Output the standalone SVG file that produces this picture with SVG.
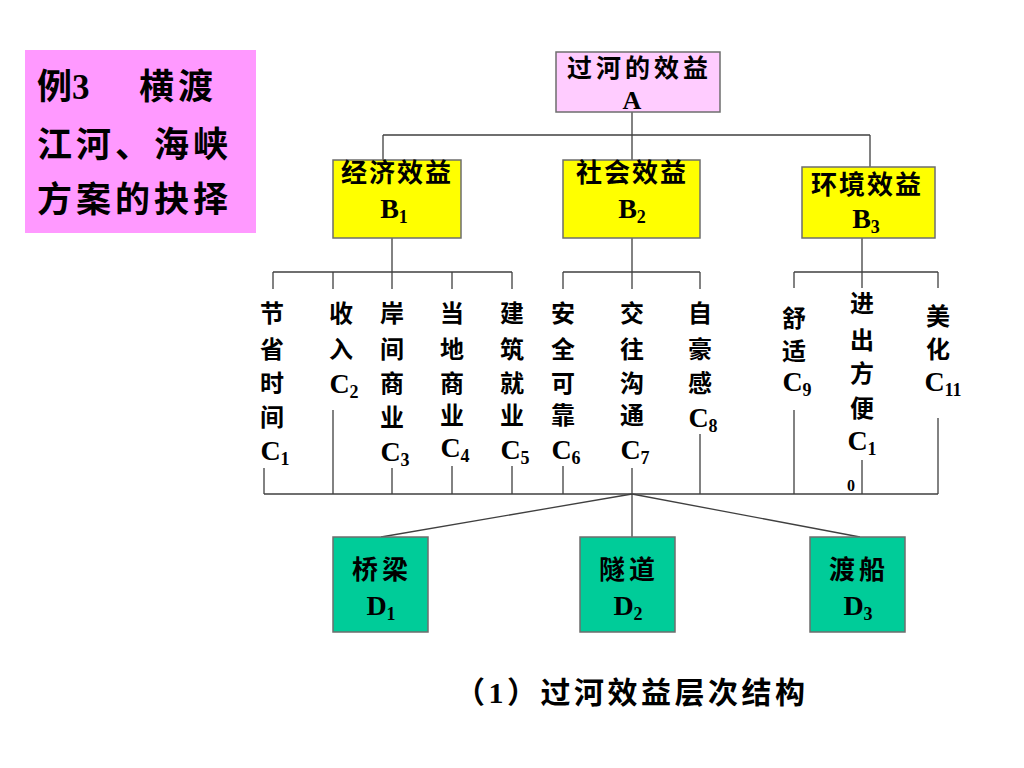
<svg xmlns="http://www.w3.org/2000/svg" width="1024" height="768" viewBox="0 0 1024 768">
<style>
.t{font-family:"Liberation Serif","Noto Sans CJK SC",serif;font-weight:bold;fill:#000;text-anchor:middle}
.s24{font-size:24px}
.s26{font-size:26px}
.s28{font-size:28px}
.box{stroke:#6e6e6e;stroke-width:1.5}
.ln{stroke:#404040;stroke-width:1.3;fill:none}
</style>
<rect width="1024" height="768" fill="#fff"/>

<g id="title">
<rect x="25" y="50" width="231" height="183" fill="#FF99FF"/>
<text class="t" style="font-size:35px;text-anchor:start" x="37" y="99">例3</text>
<text class="t" style="font-size:35px;text-anchor:start;letter-spacing:4px" x="139" y="99">横渡</text>
<text class="t" style="font-size:35px;text-anchor:start;letter-spacing:4px" x="37" y="157">江河、海峡</text>
<text class="t" style="font-size:35px;text-anchor:start;letter-spacing:4px" x="37" y="212">方案的抉择</text>
</g>

<g id="connectors">
<path class="ln" d="M632,112V135M383,135H870M383,135V160M632,135V160M870,135V167"/>
<path class="ln" d="M392,238V289M632,238V289M862,238V288"/>
<path class="ln" d="M273,272H512M273,272V289M333,272V289M452,272V289M512,272V289"/>
<path class="ln" d="M563,272H700M563,272V289M700,272V289"/>
<path class="ln" d="M794,272H938M794,272V288M938,272V288"/>
<path class="ln" d="M264,494H938M264,468V494M333,410V494M392,468V494M452,466V494M512,466V494M563,466V494M632,468V537M700,434V494M794,410V494M862,460V494M938,418V494"/>
<path class="ln" d="M632,494L381,537M632,494L860,537"/>
</g>

<g id="A">
<rect class="box" x="556" y="52" width="164" height="60" fill="#FFCCFF"/>
<text class="t" style="font-size:25px;text-anchor:start;letter-spacing:4px" x="567" y="77">过河的效益</text>
<text class="t s26" x="632" y="109">A</text>
</g>

<g id="B1">
<rect class="box" x="333" y="160" width="128" height="78" fill="#FFFF00"/>
<text class="t s26" style="text-anchor:start;letter-spacing:2px" x="341" y="182">经济效益</text>
<text class="t s28" x="394" y="218">B<tspan font-size="18" dy="5">1</tspan></text>
</g>
<g id="B2">
<rect class="box" x="563" y="160" width="137" height="78" fill="#FFFF00"/>
<text class="t s26" style="text-anchor:start;letter-spacing:2px" x="576" y="182">社会效益</text>
<text class="t s28" x="632" y="218">B<tspan font-size="18" dy="5">2</tspan></text>
</g>
<g id="B3">
<rect class="box" x="802" y="167" width="133" height="71" fill="#FFFF00"/>
<text class="t s26" style="text-anchor:start;letter-spacing:2px" x="811" y="194">环境效益</text>
<text class="t s28" x="866" y="228">B<tspan font-size="18" dy="5">3</tspan></text>
</g>

<g id="C1">
<text class="t s24"><tspan x="272" y="322">节</tspan><tspan x="272" y="358">省</tspan><tspan x="272" y="392">时</tspan><tspan x="272" y="426">间</tspan></text>
<text class="t s28" x="275" y="460">C<tspan font-size="18" dy="5">1</tspan></text>
</g>
<g id="C2">
<text class="t s24"><tspan x="341" y="322">收</tspan><tspan x="341" y="358">入</tspan></text>
<text class="t s28" x="344" y="393">C<tspan font-size="18" dy="5">2</tspan></text>
</g>
<g id="C3">
<text class="t s24"><tspan x="392" y="322">岸</tspan><tspan x="392" y="358">间</tspan><tspan x="392" y="392">商</tspan><tspan x="392" y="426">业</tspan></text>
<text class="t s28" x="395" y="461">C<tspan font-size="18" dy="5">3</tspan></text>
</g>
<g id="C4">
<text class="t s24"><tspan x="452" y="322">当</tspan><tspan x="452" y="358">地</tspan><tspan x="452" y="392">商</tspan><tspan x="452" y="424">业</tspan></text>
<text class="t s28" x="455" y="457">C<tspan font-size="18" dy="5">4</tspan></text>
</g>
<g id="C5">
<text class="t s24"><tspan x="512" y="322">建</tspan><tspan x="512" y="358">筑</tspan><tspan x="512" y="392">就</tspan><tspan x="512" y="424">业</tspan></text>
<text class="t s28" x="515" y="459">C<tspan font-size="18" dy="5">5</tspan></text>
</g>
<g id="C6">
<text class="t s24"><tspan x="563" y="322">安</tspan><tspan x="563" y="358">全</tspan><tspan x="563" y="392">可</tspan><tspan x="563" y="424">靠</tspan></text>
<text class="t s28" x="566" y="459">C<tspan font-size="18" dy="5">6</tspan></text>
</g>
<g id="C7">
<text class="t s24"><tspan x="632" y="322">交</tspan><tspan x="632" y="358">往</tspan><tspan x="632" y="392">沟</tspan><tspan x="632" y="424">通</tspan></text>
<text class="t s28" x="635" y="459">C<tspan font-size="18" dy="5">7</tspan></text>
</g>
<g id="C8">
<text class="t s24"><tspan x="700" y="322">自</tspan><tspan x="700" y="358">豪</tspan><tspan x="700" y="392">感</tspan></text>
<text class="t s28" x="703" y="427">C<tspan font-size="18" dy="5">8</tspan></text>
</g>
<g id="C9">
<text class="t s24"><tspan x="794" y="327">舒</tspan><tspan x="794" y="360">适</tspan></text>
<text class="t s28" x="797" y="391">C<tspan font-size="18" dy="5">9</tspan></text>
</g>
<g id="C10">
<text class="t s24"><tspan x="862" y="312">进</tspan><tspan x="862" y="349">出</tspan><tspan x="862" y="382">方</tspan><tspan x="862" y="417">便</tspan></text>
<text class="t s28" x="862" y="450">C<tspan font-size="18" dy="5">1</tspan></text>
<text class="t" style="font-size:16px;text-anchor:start" x="847" y="491">0</text>
</g>
<g id="C11">
<text class="t s24"><tspan x="938" y="325">美</tspan><tspan x="938" y="358">化</tspan></text>
<text class="t s28" x="943" y="391">C<tspan font-size="18" dy="5">11</tspan></text>
</g>

<g id="D1">
<rect class="box" x="333" y="537" width="95" height="95" fill="#00CC99"/>
<text class="t s26" style="text-anchor:start;letter-spacing:4px" x="352" y="579">桥梁</text>
<text class="t s28" x="381" y="615">D<tspan font-size="18" dy="5">1</tspan></text>
</g>
<g id="D2">
<rect class="box" x="580" y="537" width="95" height="95" fill="#00CC99"/>
<text class="t s26" style="text-anchor:start;letter-spacing:4px" x="599" y="579">隧道</text>
<text class="t s28" x="628" y="615">D<tspan font-size="18" dy="5">2</tspan></text>
</g>
<g id="D3">
<rect class="box" x="810" y="537" width="95" height="95" fill="#00CC99"/>
<text class="t s26" style="text-anchor:start;letter-spacing:4px" x="829" y="579">渡船</text>
<text class="t s28" x="858" y="615">D<tspan font-size="18" dy="5">3</tspan></text>
</g>

<g id="caption">
<text class="t" style="font-size:30px;text-anchor:start;letter-spacing:3.5px" x="455" y="703">（1）过河效益层次结构</text>
</g>
</svg>
